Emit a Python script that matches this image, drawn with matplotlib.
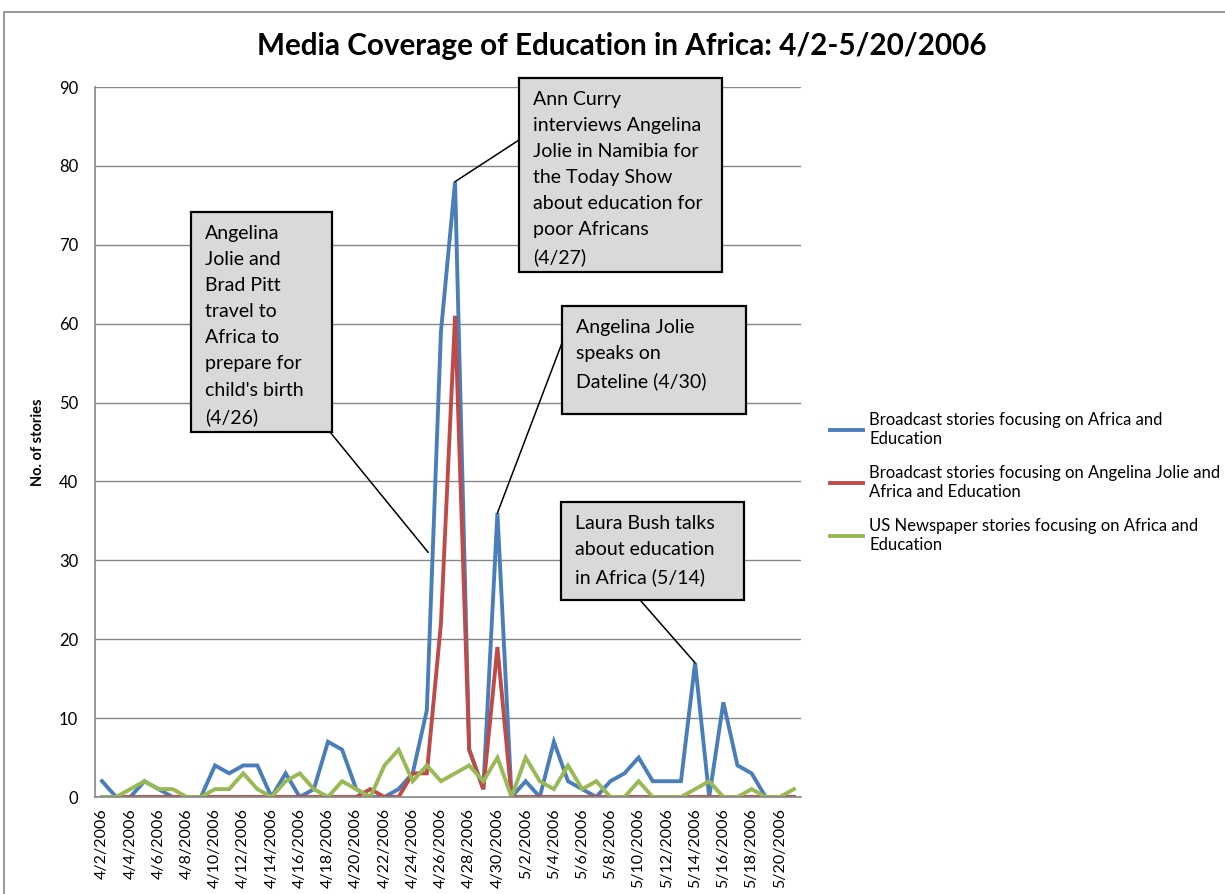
import pandas as pd
import matplotlib
matplotlib.use("Agg")
import matplotlib.pyplot as plt
from matplotlib.patches import Rectangle

# daily story counts 4/2/2006 .. 5/21/2006
dates = pd.date_range("2006-04-02", periods=50)
date_labels = [f"{d.month}/{d.day}/{d.year}" for d in dates]

broadcast_africa = [2, 0, 0, 2, 1, 0, 0, 0, 4, 3, 4, 4, 0, 3, 0, 1, 7, 6, 1, 0,
                    0, 1, 3, 11, 59, 78, 6, 1, 36, 0, 2, 0, 7, 2, 1, 0, 2, 3, 5, 2,
                    2, 2, 17, 0, 12, 4, 3, 0, 0, 0]
broadcast_jolie = [0, 0, 0, 0, 0, 0, 0, 0, 0, 0, 0, 0, 0, 0, 0, 0, 0, 0, 0, 1,
                   0, 0, 3, 3, 22, 61, 6, 1, 19, 0, 0, 0, 0, 0, 0, 0, 0, 0, 0, 0,
                   0, 0, 0, 0, 0, 0, 0, 0, 0, 0]
newspaper = [0, 0, 1, 2, 1, 1, 0, 0, 1, 1, 3, 1, 0, 2, 3, 1, 0, 2, 1, 0,
             4, 6, 2, 4, 2, 3, 4, 2, 5, 0, 5, 2, 1, 4, 1, 2, 0, 0, 2, 0,
             0, 0, 1, 2, 0, 0, 1, 0, 0, 1]

series_labels = ["Broadcast stories focusing on Africa and\nEducation",
                 "Broadcast stories focusing on Angelina Jolie and\nAfrica and Education",
                 "US Newspaper stories focusing on Africa and\nEducation"]
colors = ["#4A7EBB", "#BE4B48", "#98B954"]

# callouts: text, box (left, top, right, bottom) in image px, line start px, target
notes = [
    ("Angelina\nJolie and\nBrad Pitt\ntravel to\nAfrica to\nprepare for\nchild's birth\n(4/26)",
     (191, 212, 332, 432), (330, 432), (23.1, 31)),
    ("Ann Curry\ninterviews Angelina\nJolie in Namibia for\nthe Today Show\nabout education for\npoor Africans\n(4/27)",
     (519, 78, 722, 272), (519, 140), (25, broadcast_africa[25])),
    ("Angelina Jolie\nspeaks on\nDateline (4/30)",
     (562, 306, 746, 414), (562, 343), (28, broadcast_africa[28])),
    ("Laura Bush talks\nabout education\nin Africa (5/14)",
     (561, 502, 744, 600), (640, 600), (42, broadcast_africa[42])),
]

plt.rcParams["font.family"] = ["Lato", "DejaVu Sans"]

W, H = 1225, 894
fig = plt.figure(figsize=(W / 100, H / 100), dpi=100)
ax = fig.add_axes([95 / W, 1 - 797 / H, 706 / W, 710 / H])

x = list(range(len(dates)))
for ys, lab, c in zip([broadcast_africa, broadcast_jolie, newspaper], series_labels, colors):
    ax.plot(x, ys, color=c, lw=2.8, label=lab, solid_joinstyle="miter")

ax.set_xlim(-0.5, len(dates) - 0.5)
ax.set_ylim(0, 90)
ax.set_yticks(range(0, 91, 10))
ax.set_xticks(x[::2])
ax.set_xticklabels(date_labels[::2], rotation=90, fontsize=11.5)
ax.tick_params(axis="y", labelsize=12, length=0, pad=12)
ax.tick_params(axis="x", length=0, pad=8)
ax.grid(axis="y", color="#868686", lw=1)
ax.set_axisbelow(True)
for s in ["top", "right"]:
    ax.spines[s].set_visible(False)
for s in ["left", "bottom"]:
    ax.spines[s].set_color("#868686")
    ax.spines[s].set_linewidth(1.2)
ax.set_ylabel("No. of stories", fontsize=10.5, fontweight="bold")
ax.yaxis.set_label_coords((45 - 95) / 706, 0.5)

fig.text(622 / W, 1 - 46 / H, "Media Coverage of Education in Africa: 4/2-5/20/2006",
         ha="center", va="center", fontsize=21.3, fontweight="bold")

leg = ax.legend(loc="upper left", bbox_to_anchor=(815 / W, 1 - 397 / H),
                bbox_transform=fig.transFigure, frameon=False, fontsize=12,
                handlelength=2.0, handletextpad=0.35, labelspacing=1.05)
for t in leg.get_texts():
    t.set_linespacing(1.25)

for text, (l, t, r, b), start, target in notes:
    fig.add_artist(Rectangle((l / W, 1 - b / H), (r - l) / W, (b - t) / H,
                             transform=fig.transFigure, fc="#D9D9D9", ec="black",
                             lw=1.6, zorder=5))
    fig.text((l + 14) / W, 1 - (t + 13) / H, text, ha="left", va="top",
             fontsize=14, linespacing=1.65, zorder=6)
    ax.annotate("", xy=target, xycoords="data", xytext=(start[0], H - start[1]),
                textcoords="figure pixels",
                arrowprops=dict(arrowstyle="-", color="black", lw=1.1,
                                shrinkA=0, shrinkB=0))

# chart area border
fig.add_artist(Rectangle((4 / W, -0.1), 1.2, 1.1 - 12 / H, transform=fig.transFigure,
                         fill=False, ec="#868686", lw=1.2))

fig.savefig("out.png", dpi=100)
